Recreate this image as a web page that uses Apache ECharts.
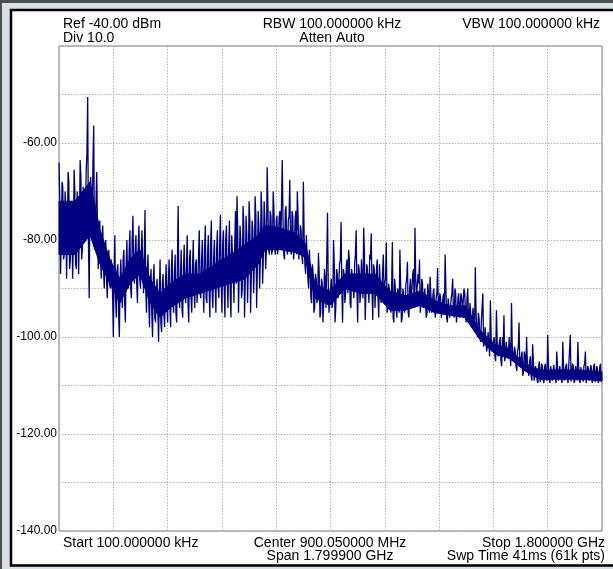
<!DOCTYPE html>
<html>
<head>
<meta charset="utf-8">
<script src="https://cdn.jsdelivr.net/npm/echarts@6/dist/echarts.min.js"></script>
<style>
html,body{margin:0;padding:0;background:#d6e0e2;}
#c{width:613px;height:569px;}
</style>
</head>
<body>
<div id="c"></div>
<script>
// Sweep settings (MHz)
const START_MHZ = 0.1;
const STOP_MHZ = 1800;
const Y_TICKS = [-60, -80, -100, -120, -140];
const HEADER_LEFT = ["Ref -40.00 dBm", "Div 10.0"];
const HEADER_CENTER = ["RBW 100.000000 kHz", "Atten Auto"];
const HEADER_RIGHT = ["VBW 100.000000 kHz"];
const FOOTER_LEFT = ["Start 100.000000 kHz"];
const FOOTER_CENTER = ["Center 900.050000 MHz", "Span 1.799900 GHz"];
const FOOTER_RIGHT = ["Stop 1.800000 GHz", "Swp Time 41ms (61k pts)"];

// Trace amplitude (dBm): main sweep points (evenly spaced)
const trace0 = [-64,-87,-68,-84,-70,-88,-66,-86,-72,-88,-65.5,-85,-70,-87,-63.5,-84,-69,-80,-66,-50.5,-92,-67,-76,-56.4,-79,-66,-86,-76,-88,-77,-90,-80,-92,-82,-90,-84];
const trace1 = [-100,-79,-96,-85,-100,-84,-94,-82,-97,-80,-90,-78,-92,-75,-89,-79,-93,-77,-90,-78,-91,-73.8,-95,-83,-98,-86,-100,-85,-97,-88,-101,-84,-99,-87,-98,-85];
const trace2 = [-97,-84,-98,-82,-95,-83,-97,-73,-94,-82,-96,-81,-93,-79,-97,-82,-95,-80,-94,-84,-90,-78,-92,-80,-95,-77,-93,-79,-96,-76,-94,-80,-95,-78,-92,-74.8];
const trace3 = [-95,-78,-96,-77,-94,-76,-96,-79,-93,-74,-71,-95,-77,-92,-73,-96,-75,-93,-72,-95,-76,-91,-71,-94,-74,-90,-70,-89,-72,-86,-65,-82,-74,-83,-70,-82];
const trace4 = [-76,-83,-75,-82,-63.5,-83,-74,-82,-76,-67.6,-83,-75,-82,-74,-70,-84,-77,-83,-68,-85,-79,-88,-82,-92,-85,-95,-87,-93,-82.7,-96,-88,-97,-86,-94,-74.4,-95];
const trace5 = [-90,-94,-80,-97,-86,-92,-85,-76.3,-97,-87,-91,-84,-82,-93,-86,-90,-85,-78,-97,-86,-91,-84,-77.5,-96.5,-85,-90,-83,-78.6,-96.5,-86,-89,-84,-96,-85,-91,-83];
const trace6 = [-89,-80.5,-94,-90,-95,-80.4,-97,-90,-96,-91,-82,-97,-90,-95,-89,-84.5,-96,-88,-93,-86,-77.5,-92,-87,-84,-93,-89,-94,-90,-95,-91,-87.6,-95,-91,-94,-92,-85.8];
const trace7 = [-95,-92,-96,-91,-83,-96,-92,-96,-92,-88,-96,-91,-95,-91,-96,-92,-95,-91,-97,-90,-96,-93,-98,-94,-85.6,-99,-95,-100,-97,-91,-101,-98,-102,-99,-92.5,-103];
const trace8 = [-101,-104,-94.5,-104,-101,-105,-100,-95.5,-104,-101,-103,-100,-93,-104,-102,-106,-103,-97,-106,-103,-107,-104,-100,-107,-105,-108,-101.5,-109,-106,-109,-106,-109.3,-105.5,-109,-106,-108.5];
const trace9 = [-99.6,-109,-106,-109,-105.8,-108.5,-103,-109,-106,-108.7,-101,-109,-106,-108.5,-105.6,-99.6,-108.8,-106,-109,-105.8,-101,-109,-106.2,-108.5,-106,-103,-109.2,-106.5,-109,-106.3,-108.7,-105.5,-109.3,-106.6,-109,-105.5,-108.5];

// In-between sweep points (one between each pair of main points)
const mid0 = [-72,-80,-69,-83,-74,-79,-68,-84,-73,-81,-70,-86,-75,-78,-67,-82,-72,-74,-62,-80,-70,-73,-64,-82,-72,-78,-80,-84,-79,-86,-82,-88,-85,-89,-84,-91];
const mid1 = [-88,-92,-86,-95,-88,-91,-84,-93,-85,-89,-82,-90,-80,-86,-82,-89,-81,-88,-83,-85,-84,-90,-86,-93,-89,-95,-88,-96,-90,-94,-91,-97,-89,-95,-90,-93];
const mid2 = [-88,-94,-86,-93,-87,-95,-84,-92,-87,-94,-86,-91,-85,-93,-84,-92,-86,-90,-85,-93,-83,-91,-84,-89,-82,-92,-83,-90,-81,-91,-84,-89,-82,-90,-81,-88];
const mid3 = [-81,-90,-80,-88,-82,-91,-79,-87,-81,-89,-78,-86,-80,-90,-77,-88,-79,-86,-76,-87,-78,-85,-75,-86,-77,-84,-74,-83,-76,-82,-73,-83,-75,-82,-74,-83];
const mid4 = [-75,-83,-74,-82,-76,-84,-73,-83,-75,-82,-74,-84,-76,-83,-75,-84,-78,-85,-79,-87,-84,-90,-86,-93,-87,-94,-88,-92,-87,-95,-89,-93,-88,-94,-89,-92];
const mid5 = [-88,-93,-85,-94,-87,-92,-84,-90,-86,-93,-85,-91,-84,-94,-86,-92,-83,-90,-85,-93,-84,-92,-83,-91,-86,-93,-84,-90,-85,-94,-86,-92,-85,-93,-87,-91];
const mid6 = [-88,-95,-89,-93,-90,-96,-88,-94,-90,-95,-89,-96,-91,-94,-88,-95,-90,-93,-87,-94,-88,-92,-89,-95,-88,-94,-90,-96,-89,-95,-91,-94,-90,-96,-91,-95];
const mid7 = [-91,-96,-92,-95,-90,-97,-92,-96,-91,-95,-90,-97,-92,-96,-91,-95,-90,-96,-92,-97,-93,-98,-94,-99,-95,-100,-96,-101,-97,-102,-98,-103,-99,-104,-100,-103];
const mid8 = [-100,-105,-101,-104,-100,-106,-102,-105,-101,-104,-100,-106,-102,-105,-103,-107,-102,-106,-104,-108,-103,-107,-105,-108,-104,-109,-105,-108,-106,-109.5,-105,-109,-106,-109.5,-105.5,-109];
const mid9 = [-105.5,-109.5,-106,-109,-105.5,-109.5,-106,-108.8,-105.8,-109.5,-106,-109,-105.5,-109.5,-106,-109.2,-105.5,-109.5,-106,-109,-105.8,-109.5,-106,-109.2,-105.5,-109.5,-106,-109,-105.8,-109.5,-106,-109.3,-106,-109.5,-106.2,-109.3];

// Dense core of the trace (where the sweep fills solid): frequency (MHz), upper and lower edge (dBm)
const bandFreq   = [0.1, 53, 103, 136, 169, 202, 235, 268, 302, 335, 368, 418, 467, 517, 567, 616, 660, 683, 733, 782, 815, 849, 898, 948, 998, 1047, 1097, 1147, 1197, 1246, 1296, 1346, 1395, 1445, 1495, 1545, 1594, 1661, 1727, 1800];
const bandTop    = [-72, -72, -68, -78, -84, -88, -84, -82, -88, -91, -89, -87, -87, -85, -83, -81, -79, -77, -77.5, -78.5, -80.5, -89, -90.5, -87, -87, -87, -90.5, -91.5, -90.5, -92.5, -93.5, -93.5, -98.5, -101.5, -102.5, -105.5, -106.8, -106.8, -106.8, -107.2];
const bandBottom = [-83, -83, -79, -85, -89, -93, -89, -87, -93, -96, -94, -92, -91, -90, -89, -88, -85, -82, -82, -82.5, -83.5, -92, -93.5, -90, -91, -91, -94.5, -94.5, -93.5, -95, -95.5, -96, -100.5, -103.5, -104.5, -107, -108.7, -108.7, -108.7, -109];

const mainDb = [].concat(trace0, trace1, trace2, trace3, trace4, trace5, trace6, trace7, trace8, trace9);
const midDb = [].concat(mid0, mid1, mid2, mid3, mid4, mid5, mid6, mid7, mid8, mid9);
const traceDb = [];
mainDb.forEach((v, i) => { traceDb.push(v); if (i < midDb.length) traceDb.push(midDb[i]); });
const step = (STOP_MHZ - START_MHZ) / (traceDb.length - 1);
const seriesData = traceDb.map((v, i) => [START_MHZ + i * step, v]);

const NAVY = '#000080';
const FONT = '14px "Liberation Sans", Arial, sans-serif';
function txt(text, x, y, align) {
  return { type: 'text', z: 100, silent: true,
    style: { text: text, x: x, y: y, align: align, verticalAlign: 'middle', fill: '#000', font: FONT } };
}

const chart = echarts.init(document.getElementById('c'), null, { renderer: 'canvas' });
chart.setOption({
  animation: false,
  backgroundColor: '#d6e0e2',
  graphic: [
    { type: 'rect', z: -100, silent: true, shape: { x: 0, y: 0, width: 613, height: 3 }, style: { fill: '#4d4d4d' } },
    { type: 'rect', z: -100, silent: true, shape: { x: 0, y: 0, width: 2, height: 569 }, style: { fill: '#4d4d4d' } },
    { type: 'rect', z: -90, silent: true, shape: { x: 11, y: 10, width: 620, height: 555.5 }, style: { fill: '#ffffff', stroke: '#000000', lineWidth: 2.5 } },
    txt(HEADER_LEFT[0], 63, 24.5, 'left'),
    txt(HEADER_LEFT[1], 63, 38, 'left'),
    txt(HEADER_CENTER[0], 332, 24.5, 'center'),
    txt(HEADER_CENTER[1], 332, 38, 'center'),
    txt(HEADER_RIGHT[0], 600, 24.5, 'right'),
    txt(FOOTER_LEFT[0], 63, 543, 'left'),
    txt(FOOTER_CENTER[0], 330, 543, 'center'),
    txt(FOOTER_CENTER[1], 330, 556.5, 'center'),
    txt(FOOTER_RIGHT[0], 605, 543, 'right'),
    txt(FOOTER_RIGHT[1], 605, 556.5, 'right')
  ],
  grid: { left: 59, right: 11, top: 46, bottom: 38, show: true, backgroundColor: 'rgba(0,0,0,0)', borderColor: '#7a7a7a', borderWidth: 1 },
  xAxis: {
    type: 'value', min: 0, max: 1800, interval: 180,
    axisLine: { show: false }, axisTick: { show: false }, axisLabel: { show: false },
    splitLine: { show: true, lineStyle: { color: '#b4b4b4', type: [1.5, 1.5], width: 1 } }
  },
  yAxis: {
    type: 'value', min: -140, max: -40, interval: 10,
    axisLine: { show: false }, axisTick: { show: false },
    axisLabel: {
      margin: 2, color: '#000', fontSize: 12, fontFamily: '"Liberation Sans", Arial, sans-serif',
      formatter: v => (Y_TICKS.indexOf(v) >= 0 ? v.toFixed(2) : '')
    },
    splitLine: { show: true, lineStyle: { color: '#b4b4b4', type: [1.5, 1.5], width: 1 } }
  },
  series: [
    {
      type: 'custom', data: [0], silent: true, z: 2,
      renderItem: function (params, api) {
        const pts = [];
        for (let i = 0; i < bandFreq.length; i++) pts.push(api.coord([bandFreq[i], bandTop[i]]));
        for (let i = bandFreq.length - 1; i >= 0; i--) pts.push(api.coord([bandFreq[i], bandBottom[i]]));
        return { type: 'polygon', shape: { points: pts }, style: { fill: NAVY, stroke: NAVY, lineWidth: 1 } };
      }
    },
    {
      type: 'line', data: seriesData, showSymbol: false, symbol: 'none', sampling: null, z: 3,
      lineStyle: { color: NAVY, width: 1.3 }, clip: true
    }
  ]
});
</script>
</body>
</html>
